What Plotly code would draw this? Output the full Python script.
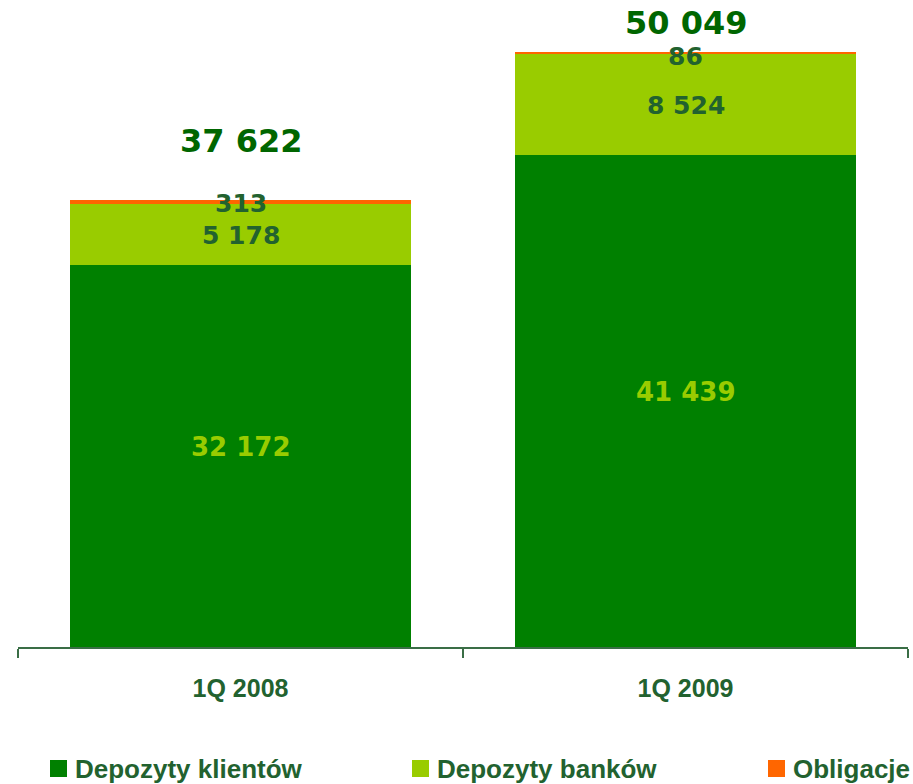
import plotly.graph_objects as go

# Quarterly funding structure (PLN m)
quarters = ["1Q 2008", "1Q 2009"]
client_deposits = [32172, 41439]
bank_deposits = [5178, 8524]
bonds = [313, 86]
totals = [37622, 50049]

series_names = ["Depozyty klientów", "Depozyty banków", "Obligacje"]
series_values = [client_deposits, bank_deposits, bonds]
series_colors = ["#008000", "#99CC00", "#FF6600"]

TEXT_GREEN = "#22622F"
TOTAL_GREEN = "#006600"
NUM_FONT = "Verdana, DejaVu Sans, sans-serif"
SANS_FONT = "Arial, Liberation Sans, sans-serif"


def fmt(v):
    return f"{v:,}".replace(",", " ")


fig = go.Figure()
for name, vals, col in zip(series_names, series_values, series_colors):
    fig.add_trace(go.Bar(
        x=quarters, y=vals, name=name,
        marker=dict(color=col, line=dict(width=0)),
        showlegend=False, hoverinfo="x+y+name",
    ))

annotations = []
for i, q in enumerate(quarters):
    c, b, o = client_deposits[i], bank_deposits[i], bonds[i]
    top = c + b + o
    # client deposits label (lime on green)
    annotations.append(dict(
        x=q, y=c / 2, text=f"<b>{fmt(c)}</b>", showarrow=False,
        yshift=9, font=dict(family=NUM_FONT, size=26, color="#99CC00")))
    # bank deposits label
    annotations.append(dict(
        x=q, y=c + b / 2, text=f"<b>{fmt(b)}</b>", showarrow=False,
        yshift=-1, font=dict(family=NUM_FONT, size=25, color=TEXT_GREEN)))
    # bonds label, sitting on the top edge of the stack
    annotations.append(dict(
        x=q, y=top, text=f"<b>{fmt(o)}</b>", showarrow=False,
        yshift=-4, font=dict(family=NUM_FONT, size=25, color=TEXT_GREEN)))

# stack totals
total_lift = [59, 30]
for i, q in enumerate(quarters):
    top = client_deposits[i] + bank_deposits[i] + bonds[i]
    annotations.append(dict(
        x=q, y=top, text=f"<b>{fmt(totals[i])}</b>", showarrow=False,
        yshift=total_lift[i], font=dict(family=NUM_FONT, size=32, color=TOTAL_GREEN)))

# plot area in pixels
plot_top, plot_bottom = 20, 647
plot_left, plot_right = 18, 908
pw = plot_right - plot_left
ph = plot_bottom - plot_top


def px_to_paper_x(px):
    return (px - plot_left) / pw


def px_to_paper_y(py):
    return (plot_bottom - py) / ph


# legend row drawn as squares + labels
shapes = []
legend_px = [50, 412, 768]
for lx, name, col in zip(legend_px, series_names, series_colors):
    shapes.append(dict(
        type="rect", xref="paper", yref="paper",
        x0=px_to_paper_x(lx), x1=px_to_paper_x(lx + 17),
        y0=px_to_paper_y(777), y1=px_to_paper_y(760),
        fillcolor=col, line=dict(width=0), layer="above"))
    annotations.append(dict(
        xref="paper", yref="paper",
        x=px_to_paper_x(lx + 23), y=px_to_paper_y(768.5),
        xanchor="left", yanchor="middle", showarrow=False,
        text=f"<b>{name}</b>",
        font=dict(family=SANS_FONT, size=26, color=TEXT_GREEN)))

y_max = ph / (647 - 155) * client_deposits[1]

fig.update_layout(
    width=913, height=784,
    margin=dict(l=plot_left, r=913 - plot_right, t=plot_top, b=784 - plot_bottom, pad=0),
    paper_bgcolor="white", plot_bgcolor="white",
    barmode="stack", bargap=0.2315,
    showlegend=False,
    annotations=annotations,
    shapes=shapes,
    xaxis=dict(
        showline=True, linecolor="#3A6E46", linewidth=1.5,
        ticks="outside", tickson="boundaries", ticklen=9, tickwidth=1.5,
        tickcolor="#3A6E46", showgrid=False, zeroline=False,
        tickfont=dict(family=SANS_FONT, size=25, color=TEXT_GREEN),
        tickprefix="<b>", ticksuffix="</b>",
        ticklabelstandoff=18,
    ),
    yaxis=dict(
        range=[0, y_max], visible=False, showgrid=False, zeroline=False,
    ),
)

fig.write_html("out.html")
